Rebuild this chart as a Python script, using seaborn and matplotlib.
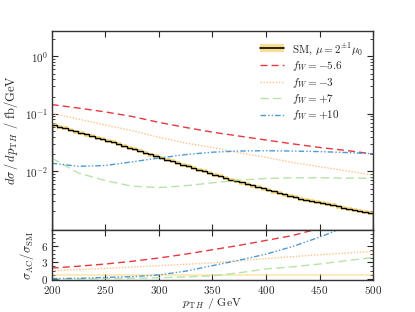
import numpy as np
import pandas as pd
import matplotlib
matplotlib.use("Agg")
import matplotlib.pyplot as plt
from matplotlib.lines import Line2D
from matplotlib.patches import Patch
from matplotlib.ticker import AutoMinorLocator, MultipleLocator
import seaborn as sns

# SM histogram, 5 GeV bins from 200 to 500 GeV
sm_edges = np.arange(200, 505, 5)
sm_xsec = [0.0631, 0.0593, 0.0558, 0.0525, 0.0494, 0.0465, 0.0438, 0.0411, 0.0387, 0.0364,
           0.0343, 0.0320, 0.0299, 0.0278, 0.0259, 0.0242, 0.0226, 0.0211, 0.0196, 0.0183,
           0.0171, 0.0160, 0.0149, 0.0139, 0.0130, 0.0122, 0.0114, 0.0107, 0.0100, 0.00935,
           0.00877, 0.00820, 0.00769, 0.00719, 0.00678, 0.00638, 0.00601, 0.00566, 0.00533, 0.00502,
           0.00473, 0.00446, 0.00420, 0.00395, 0.00372, 0.00351, 0.00331, 0.00317, 0.00303, 0.00290,
           0.00278, 0.00266, 0.00255, 0.00244, 0.00233, 0.00223, 0.00214, 0.00205, 0.00196, 0.00187]
# scale variation mu = 2^{+-1} mu_0 (relative)
sm_band_lo = 0.92
sm_band_hi = 1.08
ratio_band_lo = 0.55
ratio_band_hi = 0.90

pt = [200, 225, 250, 275, 300, 325, 350, 375, 400, 425, 450, 475, 500]
xsec_fw_m56 = [0.145, 0.126, 0.108, 0.090, 0.071, 0.058, 0.048, 0.041, 0.035, 0.030, 0.026, 0.023, 0.020]
xsec_fw_m3 = [0.102, 0.081, 0.064, 0.051, 0.039, 0.031, 0.026, 0.021, 0.0175, 0.0142, 0.0120, 0.0102, 0.0086]
xsec_fw_p7 = [0.0170, 0.0093, 0.0069, 0.0055, 0.0052, 0.0056, 0.0063, 0.0070, 0.0075, 0.0077, 0.0077, 0.0076, 0.0076]
xsec_fw_p10 = [0.0138, 0.0122, 0.0126, 0.0146, 0.0170, 0.0195, 0.0215, 0.0225, 0.0228, 0.0225, 0.0220, 0.0212, 0.0202]

ratio_fw_m56 = [1.97, 2.3, 2.7, 3.2, 3.8, 4.5, 5.3, 6.1, 7.0, 7.9, 9.2, 10.5, 11.5]
ratio_fw_m3 = [1.47, 1.7, 1.9, 2.15, 2.4, 2.65, 2.9, 3.3, 3.7, 4.05, 4.4, 4.7, 5.0]
ratio_fw_p7 = [0.0, 0.0, 0.05, 0.1, 0.2, 0.35, 0.55, 1.1, 1.8, 2.2, 2.7, 3.3, 3.9]
ratio_fw_p10 = [0.05, 0.1, 0.25, 0.4, 0.7, 1.4, 2.4, 3.4, 4.5, 5.9, 7.6, 9.5, 11.0]

labels = [r"$f_W = -5.6$", r"$f_W = -3$", r"$f_W = +7$", r"$f_W = +10$"]
colors = ["#e3232a", "#ffb36b", "#a6dc94", "#3b8fd0"]
dashes = [(5, 3), (1, 1.2), (6, 3), (4, 1.5, 1, 1.5, 1, 1.5)]
alphas = [0.9, 0.8, 0.8, 0.9]

sns.set_theme(style="ticks")
plt.rcParams.update({
    "font.family": "serif",
    "font.serif": ["cmr10", "DejaVu Serif"],
    "mathtext.fontset": "cm",
    "axes.formatter.use_mathtext": True,
    "axes.unicode_minus": False,
    "font.size": 8,
    "xtick.direction": "in",
    "ytick.direction": "in",
    "xtick.top": True,
    "ytick.right": True,
    "axes.edgecolor": "#333333",
    "axes.linewidth": 1.0,
})

fig = plt.figure(figsize=(4.15, 3.12), dpi=100)
ax = fig.add_axes([0.1246, 0.2628, 0.7744, 0.6388])
rax = fig.add_axes([0.1246, 0.1010, 0.7744, 0.1618], sharex=ax)

gold = "#f5c842"
sm_arr = np.array(sm_xsec)
ax.fill_between(sm_edges, np.append(sm_arr, sm_arr[-1]) * sm_band_lo,
                np.append(sm_arr, sm_arr[-1]) * sm_band_hi, step="post",
                color=gold, alpha=0.6, lw=0)
ax.stairs(sm_xsec, sm_edges, color="black", lw=1.0)

tops = [xsec_fw_m56, xsec_fw_m3, xsec_fw_p7, xsec_fw_p10]
ratios = [ratio_fw_m56, ratio_fw_m3, ratio_fw_p7, ratio_fw_p10]
for vals, rvals, lab, c, d, a in zip(tops, ratios, labels, colors, dashes, alphas):
    df = pd.DataFrame({"pt": pt, "xsec": vals, "ratio": rvals})
    sns.lineplot(data=df, x="pt", y="xsec", ax=ax, color=c, lw=1.0, alpha=a,
                 legend=False).lines[-1].set_dashes(d)
    sns.lineplot(data=df, x="pt", y="ratio", ax=rax, color=c, lw=1.0, alpha=a,
                 legend=False).lines[-1].set_dashes(d)

rax.fill_between([200, 500], ratio_band_lo, ratio_band_hi, color=gold, alpha=0.35, lw=0)

ax.set_yscale("log")
ax.set_xlim(200, 500)
ax.set_ylim(9.5e-4, 2.8)
ax.set_yticks([1e-2, 1e-1, 1e0])
ax.set_xlabel("")
ax.set_ylabel(r"$d\sigma\,/\,dp_{\mathrm{T}\,H}$ / fb/GeV", fontsize=9, labelpad=4)
ax.tick_params(axis="x", labelbottom=False)
ax.xaxis.set_major_locator(MultipleLocator(50))

rax.set_ylim(-0.3, 8.9)
rax.yaxis.set_major_locator(MultipleLocator(3))
rax.yaxis.set_minor_locator(AutoMinorLocator(4))
rax.set_ylabel(r"$\sigma_{\mathrm{AC}}/\sigma_{\mathrm{SM}}$", fontsize=9, labelpad=4)
rax.set_xlabel(r"$p_{\mathrm{T}\,H}$ / GeV", fontsize=8.5, labelpad=0)

for a_ in (ax, rax):
    a_.tick_params(which="major", length=4, width=0.8, labelsize=8, pad=2.5)
    a_.tick_params(which="minor", length=2, width=0.6)

handles = [(Patch(facecolor=gold, alpha=0.6, lw=0), Line2D([], [], color="black", lw=1.2))]
for c, d, a in zip(colors, dashes, alphas):
    handles.append(Line2D([], [], color=c, lw=1.0, alpha=a, dashes=d))
ax.legend(handles, [r"SM, $\mu = 2^{\pm1}\mu_0$"] + labels, loc="upper right",
          frameon=False, fontsize=8, handlelength=2.2, handletextpad=0.7,
          labelspacing=0.22, bbox_to_anchor=(1.0, 1.0))

fig.savefig("out.png", dpi=100)
